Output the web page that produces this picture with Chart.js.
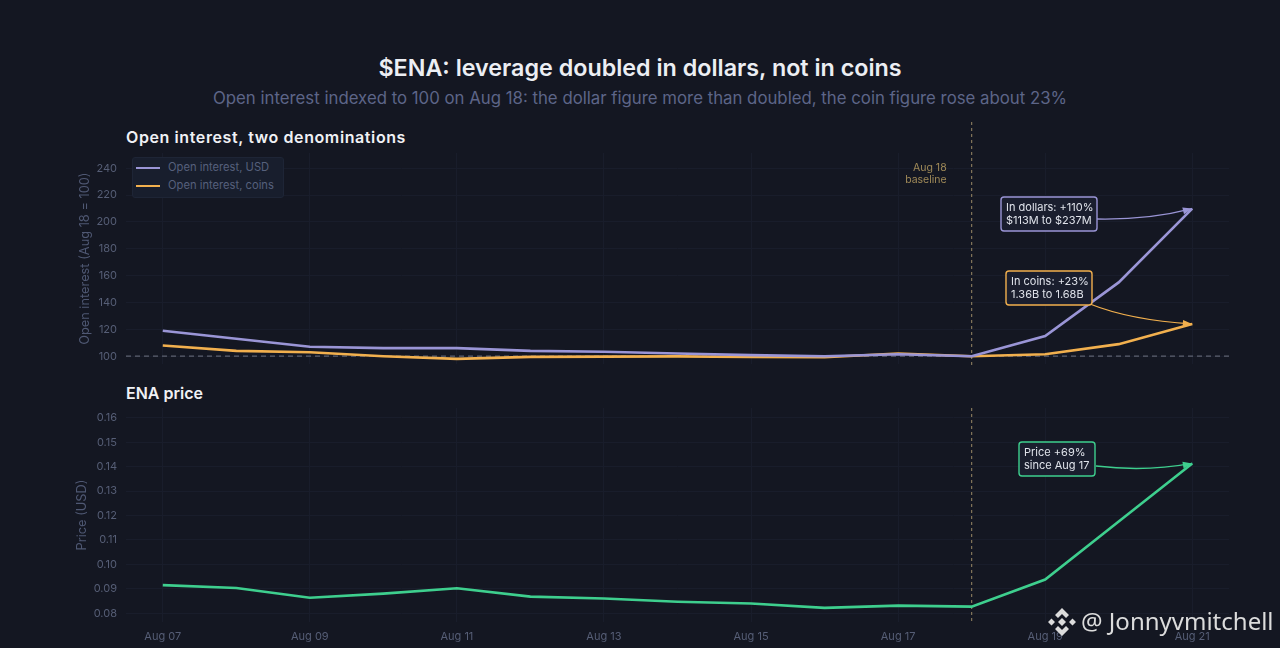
<!DOCTYPE html>
<html>
<head>
<meta charset="utf-8">
<script src="https://cdn.jsdelivr.net/npm/chart.js@4"></script>
<style>
  html, body { margin: 0; padding: 0; background: #141722; }
  body { position: relative; width: 1280px; height: 648px; overflow: hidden; font-family: Inter, sans-serif; }
  canvas { position: absolute; left: 0; }
  .txt { position: absolute; white-space: nowrap; }
  #title { left: 0; width: 1280px; top: 53px; text-align: center; font-size: 23.3px; font-weight: 600; color: #eceef3; }
  #subtitle { left: 0; width: 1280px; top: 88px; text-align: center; font-size: 16.8px; color: #5d6588; }
  #head1 { left: 126px; top: 127px; font-size: 16px; font-weight: 600; letter-spacing: 0.6px; color: #f0f1f5; }
  #head2 { left: 126px; top: 383px; font-size: 16px; font-weight: 600; color: #f0f1f5; }
  #legend { position: absolute; left: 132px; top: 157px; width: 150px; height: 39px; background: #181e2d; border: 1px solid #1e2536; border-radius: 3px; }
  #legend .row { position: absolute; left: 3px; font-size: 11.2px; color: #56607c; white-space: nowrap; }
  #legend .swatch { display: inline-block; width: 24px; height: 2.5px; margin-right: 8px; vertical-align: middle; }
  #mark { left: 1081px; top: 604px; font-family: "Noto Sans", sans-serif; font-size: 24px; color: #dcdcdc; }
  #logo { position: absolute; left: 1048px; top: 608px; }
</style>
</head>
<body>
<div class="txt" id="title">$ENA: leverage doubled in dollars, not in coins</div>
<div class="txt" id="subtitle">Open interest indexed to 100 on Aug 18: the dollar figure more than doubled, the coin figure rose about 23%</div>
<div class="txt" id="head1">Open interest, two denominations</div>
<div class="txt" id="head2">ENA price</div>
<canvas id="oiChart" width="1280" height="280" style="top:100px"></canvas>
<canvas id="priceChart" width="1280" height="268" style="top:380px"></canvas>
<div id="legend"></div>
<svg id="logo" width="28" height="28" viewBox="0 0 28 28" fill="#dcdcdc">
  <path d="M14 0l7 7-3 3-4-4-4 4-3-3zM14 28l-7-7 3-3 4 4 4-4 3 3zM0 14l3.5-3.5L7 14l-3.5 3.5zM21 14l3.5-3.5L28 14l-3.5 3.5zM14 10l4 4-4 4-4-4z"/>
</svg>
<div class="txt" id="mark">@ Jonnyvmitchell</div>

<script>
// data
const days = ['Aug 07', 'Aug 08', 'Aug 09', 'Aug 10', 'Aug 11', 'Aug 12', 'Aug 13', 'Aug 14', 'Aug 15', 'Aug 16', 'Aug 17', 'Aug 18', 'Aug 19', 'Aug 20', 'Aug 21'];
const shownDays = ['Aug 07', 'Aug 09', 'Aug 11', 'Aug 13', 'Aug 15', 'Aug 17', 'Aug 19', 'Aug 21'];
const oiUsd = [119, 113, 107, 106, 106, 104, 103.3, 102, 100.8, 100, 101.5, 100, 115, 155, 210];
const oiCoins = [108, 104, 103, 100, 98, 99.5, 99.7, 99.9, 99.4, 99.2, 102, 100, 101.5, 109, 124];
const price = [0.0915, 0.0903, 0.0863, 0.088, 0.0902, 0.0868, 0.086, 0.0847, 0.084, 0.0822, 0.0831, 0.0827, 0.0938, 0.1175, 0.1413];
const oiTicks = [100, 120, 140, 160, 180, 200, 220, 240];
const priceTicks = [0.08, 0.09, 0.10, 0.11, 0.12, 0.13, 0.14, 0.15, 0.16];
const baselineDay = 'Aug 18';

const PURPLE = '#9a95d6';
const ORANGE = '#f2b04e';
const GREEN = '#3ecf8e';
const GRID = '#191d2b';
const TICK = '#565e76';

Chart.defaults.font.family = 'Inter, sans-serif';
Chart.defaults.animation = false;

// dashed lines, notes and arrows
const overlay = {
  id: 'overlay',
  beforeDatasetsDraw(chart, args, opts) {
    const { ctx, scales: { x, y }, chartArea } = chart;
    const px = x.getPixelForValue(days.indexOf(baselineDay));
    ctx.save();
    ctx.setLineDash([3, 3]);
    ctx.lineWidth = 1.2;
    ctx.strokeStyle = '#84765a';
    ctx.beginPath();
    ctx.moveTo(px, opts.vTop);
    ctx.lineTo(px, opts.vBottom);
    ctx.stroke();
    if (opts.baseline) {
      const py = y.getPixelForValue(opts.baseline);
      ctx.setLineDash([5, 4]);
      ctx.strokeStyle = '#5d6270';
      ctx.beginPath();
      ctx.moveTo(chartArea.left, py);
      ctx.lineTo(chartArea.right, py);
      ctx.stroke();
      ctx.setLineDash([]);
      ctx.fillStyle = '#a08a58';
      ctx.font = '10.5px Inter';
      ctx.textAlign = 'right';
      ctx.textBaseline = 'middle';
      ctx.fillText('Aug 18', px - 25, 68);
      ctx.fillText('baseline', px - 25, 80);
    }
    ctx.restore();
  },
  afterDatasetsDraw(chart, args, opts) {
    const { ctx, scales: { x, y } } = chart;
    (opts.notes || []).forEach(n => {
      const ex = x.getPixelForValue(days.length - 1);
      const ey = y.getPixelForValue(n.value);
      ctx.save();
      ctx.strokeStyle = n.color;
      ctx.fillStyle = n.color;
      ctx.lineWidth = 1.3;
      ctx.beginPath();
      ctx.moveTo(n.from[0], n.from[1]);
      ctx.quadraticCurveTo(n.ctrl[0], n.ctrl[1], ex, ey);
      ctx.stroke();
      const a = Math.atan2(ey - n.ctrl[1], ex - n.ctrl[0]);
      ctx.beginPath();
      ctx.moveTo(ex, ey);
      ctx.lineTo(ex - 10 * Math.cos(a - 0.35), ey - 10 * Math.sin(a - 0.35));
      ctx.lineTo(ex - 10 * Math.cos(a + 0.35), ey - 10 * Math.sin(a + 0.35));
      ctx.closePath();
      ctx.fill();
      ctx.beginPath();
      ctx.roundRect(n.box[0], n.box[1], n.box[2], n.box[3], 3);
      ctx.fillStyle = '#1a1e2e';
      ctx.fill();
      ctx.lineWidth = 1.4;
      ctx.stroke();
      ctx.fillStyle = '#dfe2ea';
      ctx.font = '11px Inter';
      ctx.textAlign = 'left';
      ctx.textBaseline = 'middle';
      n.lines.forEach((t, i) => ctx.fillText(t, n.box[0] + 5, n.box[1] + 11 + i * 13));
      ctx.restore();
    });
  }
};

function makeChart(id, datasets, yOpts, overlayOpts, padding, xHeight) {
  return new Chart(document.getElementById(id).getContext('2d'), {
    type: 'line',
    data: { labels: days, datasets },
    plugins: [overlay],
    options: {
      responsive: false,
      devicePixelRatio: 1,
      layout: { padding },
      elements: { point: { radius: 0 }, line: { tension: 0, borderWidth: 2.6 } },
      plugins: { legend: { display: false }, title: { display: false }, tooltip: { enabled: false }, overlay: overlayOpts },
      scales: {
        x: {
          offset: true,
          border: { display: false },
          afterFit(s) { s.height = xHeight; },
          grid: { drawTicks: false, color: c => shownDays.includes(days[c.index]) ? GRID : 'transparent' },
          ticks: {
            display: xHeight > 0,
            autoSkip: false,
            maxRotation: 0,
            padding: 8,
            color: TICK,
            font: { size: 11 },
            callback(v) { const d = this.getLabelForValue(v); return shownDays.includes(d) ? d : ''; }
          }
        },
        y: {
          min: yOpts.min,
          max: yOpts.max,
          border: { display: false },
          afterFit(s) { s.width = 56; },
          afterBuildTicks(s) { s.ticks = yOpts.ticks.map(value => ({ value })); },
          grid: { drawTicks: false, color: GRID },
          title: { display: true, text: yOpts.title, color: '#4f5873', font: { size: 12.8 }, padding: yOpts.titlePad },
          ticks: { padding: 9, color: TICK, font: { size: 11 }, callback: yOpts.format }
        }
      }
    }
  });
}

makeChart('oiChart',
  [
    { label: 'Open interest, USD', data: oiUsd, borderColor: PURPLE },
    { label: 'Open interest, coins', data: oiCoins, borderColor: ORANGE }
  ],
  { min: 93.9, max: 251.4, ticks: oiTicks, title: 'Open interest (Aug 18 = 100)', titlePad: 7, format: v => v },
  {
    vTop: 22, vBottom: 265, baseline: 100,
    notes: [
      { value: oiUsd[14], color: PURPLE, lines: ['In dollars: +110%', '$113M to $237M'], box: [1001, 97, 96, 34], from: [1097, 119], ctrl: [1148, 120] },
      { value: oiCoins[14], color: ORANGE, lines: ['In coins: +23%', '1.36B to 1.68B'], box: [1006, 171, 86, 34], from: [1090, 204], ctrl: [1130, 220] }
    ]
  },
  { left: 70, right: 51, top: 53, bottom: 12.5 }, 0);

makeChart('priceChart',
  [{ label: 'ENA price', data: price, borderColor: GREEN }],
  { min: 0.0764, max: 0.164, ticks: priceTicks, title: 'Price (USD)', titlePad: 4, format: v => v.toFixed(2) },
  {
    vTop: 28, vBottom: 242,
    notes: [
      { value: price[14], color: GREEN, lines: ['Price +69%', 'since Aug 17'], box: [1019, 62, 76, 34], from: [1096, 86], ctrl: [1145, 92] }
    ]
  },
  { left: 70, right: 51, top: 28, bottom: 0 }, 26);

// legend from the same series names
const legendEl = document.getElementById('legend');
[['Open interest, USD', PURPLE, 2], ['Open interest, coins', ORANGE, 20]].forEach(([name, color, top]) => {
  const row = document.createElement('div');
  row.className = 'row';
  row.style.top = top + 'px';
  const sw = document.createElement('span');
  sw.className = 'swatch';
  sw.style.background = color;
  row.appendChild(sw);
  row.appendChild(document.createTextNode(name));
  legendEl.appendChild(row);
});
</script>
</body>
</html>
